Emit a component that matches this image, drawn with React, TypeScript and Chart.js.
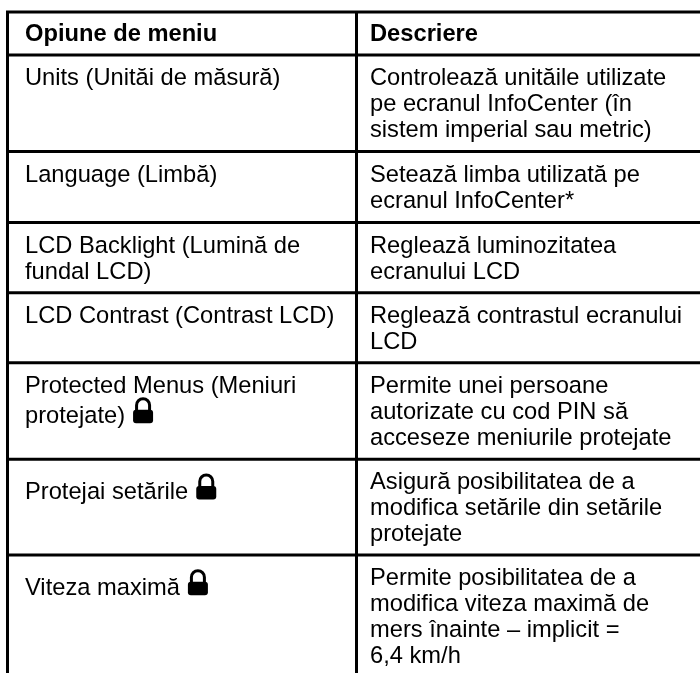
import React, { useEffect, useRef } from "react";
import { Chart, registerables } from "chart.js";

Chart.register(...registerables);

const FONT = '"Liberation Sans", Arial, sans-serif';
const FONT_SIZE = 23.7;
const rowEdges = [12, 55, 151.5, 222.5, 292.7, 362.7, 459.3, 555];
const columnEdges = [7.5, 356.5];
const tableBottom = 673;
const tableRight = 700;
const headers = ["Opiune de meniu", "Descriere"];
const leftCells = [
  ["Units (Unităi de măsură)"],
  ["Language (Limbă)"],
  ["LCD Backlight (Lumină de", "fundal LCD)"],
  ["LCD Contrast (Contrast LCD)"],
  ["Protected Menus (Meniuri", "protejate)"],
  ["Protejai setările"],
  ["Viteza maximă"],
];
const rightCells = [
  ["Controlează unităile utilizate", "pe ecranul InfoCenter (în", "sistem imperial sau metric)"],
  ["Setează limba utilizată pe", "ecranul InfoCenter*"],
  ["Reglează luminozitatea", "ecranului LCD"],
  ["Reglează contrastul ecranului", "LCD"],
  ["Permite unei persoane", "autorizate cu cod PIN să", "acceseze meniurile protejate"],
  ["Asigură posibilitatea de a", "modifica setările din setările", "protejate"],
  ["Permite posibilitatea de a", "modifica viteza maximă de", "mers înainte – implicit =", "6,4 km/h"],
];
const lockedRows = [4, 5, 6];
const leftFirstBaseline = [30, 30, 30, 30, 30, 39.7, 39.7];
const leftLineStep = [26, 26, 26, 26, 30, 26, 26];

const tablePlugin = {
  id: "tableText",
  afterDatasetsDraw(chart: any) {
    const { ctx, scales } = chart;
    const xs = scales.x;
    const ys = scales.y;
    const leftX = xs.getPixelForValue(columnEdges[0] + 17.5);
    const rightX = xs.getPixelForValue(columnEdges[1] + 13.5);
    ctx.save();
    ctx.fillStyle = "#000";
    ctx.textBaseline = "alphabetic";
    ctx.font = `bold ${FONT_SIZE}px ${FONT}`;
    ctx.fillText(headers[0], leftX, ys.getPixelForValue(41));
    ctx.fillText(headers[1], rightX, ys.getPixelForValue(41));
    ctx.font = `${FONT_SIZE}px ${FONT}`;
    leftCells.forEach((lines, r) => {
      lines.forEach((line, i) => {
        ctx.fillText(line, leftX, ys.getPixelForValue(rowEdges[r + 1] + leftFirstBaseline[r] + i * leftLineStep[r]));
      });
    });
    rightCells.forEach((lines, r) => {
      lines.forEach((line, i) => {
        ctx.fillText(line, rightX, ys.getPixelForValue(rowEdges[r + 1] + 30 + i * 26));
      });
    });
    lockedRows.forEach((r) => {
      const lines = leftCells[r];
      const last = lines[lines.length - 1];
      const w = ctx.measureText(last).width;
      const x = leftX + w + 8;
      const i = lines.length - 1;
      const base = ys.getPixelForValue(rowEdges[r + 1] + leftFirstBaseline[r] + i * leftLineStep[r]);
      ctx.beginPath();
      ctx.roundRect(x, base - 13, 20, 13.5, 3);
      ctx.fill();
      ctx.beginPath();
      ctx.lineWidth = 3;
      ctx.strokeStyle = "#000";
      ctx.arc(x + 10, base - 17.5, 6.5, Math.PI, 2 * Math.PI);
      ctx.moveTo(x + 3.5, base - 17.5);
      ctx.lineTo(x + 3.5, base - 11);
      ctx.moveTo(x + 16.5, base - 17.5);
      ctx.lineTo(x + 16.5, base - 11);
      ctx.stroke();
    });
    ctx.restore();
  },
};

const rule = (data: { x: number; y: number }[]) => ({
  type: "line" as const,
  data,
  borderColor: "#000",
  borderWidth: 3,
  pointRadius: 0,
  borderCapStyle: "butt" as const,
});

export default function App() {
  const ref = useRef<HTMLCanvasElement>(null);
  useEffect(() => {
    if (!ref.current) return;
    const datasets = [
      ...rowEdges.map((y) =>
        rule([
          { x: columnEdges[0] - 1.5, y },
          { x: tableRight, y },
        ])
      ),
      ...columnEdges.map((x) =>
        rule([
          { x, y: rowEdges[0] },
          { x, y: tableBottom },
        ])
      ),
    ];
    const chart = new Chart(ref.current, {
      type: "scatter",
      data: { datasets },
      options: {
        animation: false,
        responsive: false,
        devicePixelRatio: 1,
        layout: { padding: 0 },
        plugins: { legend: { display: false }, tooltip: { enabled: false }, title: { display: false } },
        scales: {
          x: { type: "linear", min: 0, max: 700, display: false },
          y: { type: "linear", min: 0, max: 673, reverse: true, display: false },
        },
      },
      plugins: [tablePlugin],
    });
    return () => chart.destroy();
  }, []);
  return (
    <div style={{ position: "absolute", left: 0, top: 0, width: 700, height: 673, background: "#fff" }}>
      <canvas ref={ref} width={700} height={673} style={{ display: "block" }} />
    </div>
  );
}
